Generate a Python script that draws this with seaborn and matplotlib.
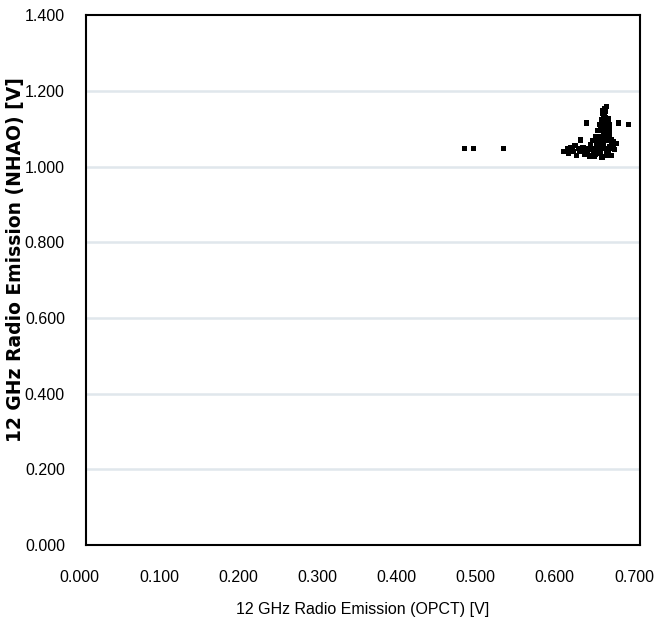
import matplotlib
matplotlib.use("Agg")
import matplotlib.pyplot as plt
import matplotlib.transforms as mtransforms
import seaborn as sns
import pandas as pd

# Data (OPCT on x, NHAO on y), in volts
opct = [0.478, 0.490, 0.528,
        0.633, 0.673, 0.686, 0.625,
        0.604, 0.610, 0.615, 0.620, 0.624, 0.628, 0.632, 0.636, 0.640, 0.644,
        0.648, 0.652, 0.656, 0.660, 0.664, 0.668,
        0.612, 0.618, 0.630, 0.638, 0.642, 0.650, 0.658, 0.662, 0.645, 0.635,
        0.648, 0.652, 0.656, 0.660, 0.664, 0.650, 0.655, 0.659, 0.662, 0.647,
        0.652, 0.657, 0.661, 0.649, 0.654, 0.658, 0.662, 0.651, 0.656, 0.660,
        0.666, 0.670, 0.640, 0.644,
        0.654, 0.657, 0.655, 0.658, 0.653,
        0.646, 0.650, 0.654, 0.658, 0.662, 0.666, 0.648, 0.653, 0.657, 0.661,
        0.650, 0.654, 0.659, 0.652, 0.656, 0.660, 0.655, 0.657, 0.653, 0.656,
        0.626, 0.634, 0.642, 0.646, 0.608, 0.616, 0.622, 0.638, 0.648, 0.664]
nhao = [1.047, 1.047, 1.047,
        1.115, 1.115, 1.112, 1.070,
        1.040, 1.035, 1.045, 1.030, 1.042, 1.050, 1.038, 1.028, 1.046, 1.033,
        1.055, 1.025, 1.048, 1.036, 1.058, 1.044,
        1.050, 1.055, 1.032, 1.058, 1.026, 1.040, 1.030, 1.052, 1.062, 1.048,
        1.065, 1.070, 1.075, 1.068, 1.072, 1.080, 1.085, 1.090, 1.082, 1.095,
        1.100, 1.105, 1.098, 1.110, 1.115, 1.120, 1.112, 1.125, 1.130, 1.127,
        1.065, 1.060, 1.068, 1.078,
        1.138, 1.145, 1.152, 1.158, 1.148,
        1.045, 1.052, 1.060, 1.042, 1.048, 1.052, 1.070, 1.078, 1.092, 1.088,
        1.102, 1.094, 1.108, 1.118, 1.112, 1.120, 1.134, 1.128, 1.141, 1.150,
        1.040, 1.042, 1.036, 1.050, 1.046, 1.040, 1.048, 1.030, 1.034, 1.030]

x_ticks = [0.0, 0.1, 0.2, 0.3, 0.4, 0.5, 0.6, 0.7]
y_ticks = [0.0, 0.2, 0.4, 0.6, 0.8, 1.0, 1.2, 1.4]

df = pd.DataFrame({"OPCT": opct, "NHAO": nhao})

sns.set_style("white")
plt.rcParams['font.family'] = ['Liberation Sans', 'DejaVu Sans']
plt.rcParams['text.color'] = 'black'
plt.rcParams['axes.labelcolor'] = 'black'
plt.rcParams['xtick.color'] = 'black'
plt.rcParams['ytick.color'] = 'black'

fig = plt.figure(figsize=(6.55, 6.30), dpi=100)
ax = fig.add_axes([0.131, 0.135, 0.846, 0.841])

for yv in y_ticks[1:-1]:
    ax.axhline(yv, color="#e0e7ec", lw=1.8, zorder=0)

sns.scatterplot(data=df, x="OPCT", y="NHAO", ax=ax, marker="s", s=14,
                color="black", edgecolor="none", linewidth=0, zorder=3)

ax.set_xlim(0, 0.7)
ax.set_ylim(0, 1.4)
ax.set_xticks(x_ticks)
ax.set_yticks(y_ticks)
ax.set_xticklabels([f"{v:.3f}" for v in x_ticks], fontsize=11.5)
ax.set_yticklabels([f"{v:.3f}" for v in y_ticks], fontsize=11.5)
ax.tick_params(axis="x", direction="in", length=5, width=1, pad=18, colors="black")
ax.tick_params(axis="y", direction="in", length=5, width=1, pad=15, colors="black")
ax.tick_params(top=False, right=False)

shift = mtransforms.ScaledTranslation(-6 / 100, 0, fig.dpi_scale_trans)
for lbl in ax.get_xticklabels():
    lbl.set_transform(lbl.get_transform() + shift)

for sp in ax.spines.values():
    sp.set_visible(True)
    sp.set_color("black")
    sp.set_linewidth(1.5)

ax.set_xlabel("12 GHz Radio Emission (OPCT) [V]", fontsize=11.5, color="black")
ax.xaxis.set_label_coords(0.5, -0.108)
ax.set_ylabel("12 GHz Radio Emission (NHAO) [V]", fontsize=13.5, color="black",
              fontweight="bold", family=['DejaVu Sans'])
ax.yaxis.set_label_coords(-0.11, 0.538)

fig.savefig("out.png", dpi=100, facecolor="white")
